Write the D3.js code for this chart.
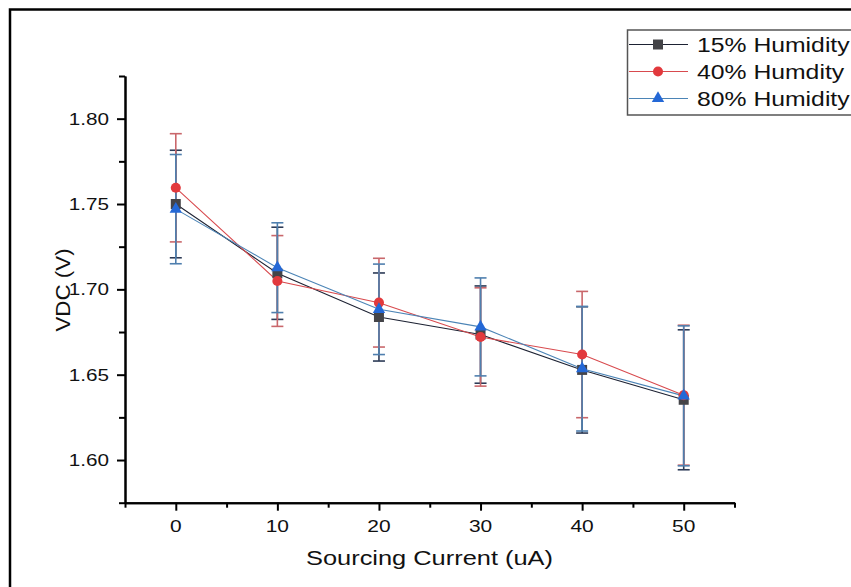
<!DOCTYPE html>
<html>
<head>
<meta charset="utf-8">
<script src="https://cdn.jsdelivr.net/npm/d3@7"></script>
<style>
  body { margin: 0; background: #fff; }
  svg { display: block; }
  text { font-family: "Liberation Sans", Arial, sans-serif; fill: #111; }
</style>
</head>
<body>
<svg id="chart" width="851" height="587"></svg>
<script>
// Sourcing current (uA) on the x axis
const currents = [0, 10, 20, 30, 40, 50];

// Measured VDC (V) and error half-widths for each humidity level
const h15 = [1.750, 1.7094, 1.6838, 1.6735, 1.6528, 1.6353];
const h15Err = [0.0315, 0.027, 0.0258, 0.0285, 0.037, 0.041];
const h40 = [1.7595, 1.7049, 1.6922, 1.6721, 1.6618, 1.638];
const h40Err = [0.0317, 0.0266, 0.026, 0.0288, 0.037, 0.041];
const h80 = [1.747, 1.7127, 1.6883, 1.678, 1.6535, 1.6376];
const h80Err = [0.032, 0.0263, 0.0265, 0.0287, 0.0365, 0.041];

const seriesNames = ["15% Humidity", "40% Humdity", "80% Humidity"];

// Tick values
const xMajor = [0, 10, 20, 30, 40, 50];
const xMinor = [-5, 5, 15, 25, 35, 45, 55];
const yMajor = [1.60, 1.65, 1.70, 1.75, 1.80];
const yMinor = [1.575, 1.625, 1.675, 1.725, 1.775, 1.825];

const series = [
  { name: seriesNames[0], values: h15, err: h15Err, symbol: d3.symbolSquare, size: 100,
    fill: "#444448", line: "#1d2233", errColor: "#2c3a56" },
  { name: seriesNames[1], values: h40, err: h40Err, symbol: d3.symbolCircle, size: 80,
    fill: "#e2393d", line: "#d84a4e", errColor: "#c9676b" },
  { name: seriesNames[2], values: h80, err: h80Err, symbol: d3.symbolTriangle, size: 66,
    fill: "#2468d6", line: "#4b84b6", errColor: "#4f7fae" }
];

const WIDE = 1.27; // horizontal stretch of the label lettering

const svg = d3.select("#chart");

// outer frame (only its top and left edges fall inside the canvas)
svg.append("rect")
  .attr("x", 10).attr("y", 9.5).attr("width", 1000).attr("height", 800)
  .attr("fill", "none").attr("stroke", "#000").attr("stroke-width", 2.5);

const x = d3.scaleLinear().domain([-5, 55]).range([125, 734.5]);
const y = d3.scaleLinear().domain([1.575, 1.825]).range([502.7, 76]);

// axes: minor ticks first, then major ticks and the axis line
const axisStyle = g => {
  g.selectAll("path.domain").attr("stroke", "#000").attr("stroke-width", 2);
  g.selectAll(".tick line").attr("stroke", "#000").attr("stroke-width", 2);
  g.selectAll(".tick text").remove();
};

svg.append("g").attr("transform", `translate(0,${y.range()[0]})`)
  .call(d3.axisBottom(x).tickValues(xMinor).tickSize(5).tickSizeOuter(0))
  .call(axisStyle);
svg.append("g").attr("transform", `translate(0,${y.range()[0]})`)
  .call(d3.axisBottom(x).tickValues(xMajor).tickSize(8).tickSizeOuter(0))
  .call(axisStyle);
svg.append("g").attr("transform", `translate(${x.range()[0]},0)`)
  .call(d3.axisLeft(y).tickValues(yMinor).tickSize(6).tickSizeOuter(0))
  .call(axisStyle);
svg.append("g").attr("transform", `translate(${x.range()[0]},0)`)
  .call(d3.axisLeft(y).tickValues(yMajor).tickSize(8).tickSizeOuter(0))
  .call(axisStyle);

// tick labels
svg.append("g").selectAll("g").data(xMajor).join("g")
  .attr("transform", d => `translate(${x(d)},531.5) scale(${WIDE},1)`)
  .append("text")
  .attr("text-anchor", "middle")
  .attr("font-size", 16.5)
  .text(d => d3.format("d")(d));

svg.append("g").selectAll("g").data(yMajor).join("g")
  .attr("transform", d => `translate(109,${y(d)}) scale(${WIDE},1)`)
  .append("text")
  .attr("text-anchor", "end")
  .attr("dy", "0.36em")
  .attr("font-size", 16.3)
  .text(d => d3.format(".2f")(d));

// axis titles
svg.append("g")
  .attr("transform", `translate(429.5,565) scale(${WIDE},1)`)
  .append("text").attr("text-anchor", "middle").attr("font-size", 20)
  .text("Sourcing Current (uA)");

svg.append("g")
  .attr("transform", `translate(69.5,290) rotate(-90) scale(1.09,1)`)
  .append("text").attr("text-anchor", "middle").attr("font-size", 20.5)
  .text("VDC (V)");

// series: error bars, connecting lines, markers
const plot = svg.append("g");
const capHalf = 6;

series.forEach(s => {
  const pts = currents.map((c, i) => ({ c, v: s.values[i], e: s.err[i] }));
  const eb = plot.append("g").attr("stroke", s.errColor).attr("stroke-width", 1.6);
  eb.selectAll("line.stem").data(pts).join("line").attr("class", "stem")
    .attr("x1", d => x(d.c)).attr("x2", d => x(d.c))
    .attr("y1", d => y(d.v + d.e)).attr("y2", d => y(d.v - d.e));
  eb.selectAll("line.capTop").data(pts).join("line").attr("class", "capTop")
    .attr("x1", d => x(d.c) - capHalf).attr("x2", d => x(d.c) + capHalf)
    .attr("y1", d => y(d.v + d.e)).attr("y2", d => y(d.v + d.e));
  eb.selectAll("line.capBot").data(pts).join("line").attr("class", "capBot")
    .attr("x1", d => x(d.c) - capHalf).attr("x2", d => x(d.c) + capHalf)
    .attr("y1", d => y(d.v - d.e)).attr("y2", d => y(d.v - d.e));
});

series.forEach(s => {
  const pts = currents.map((c, i) => ({ c, v: s.values[i] }));
  plot.append("path").datum(pts)
    .attr("fill", "none").attr("stroke", s.line).attr("stroke-width", 1.1)
    .attr("d", d3.line().x(d => x(d.c)).y(d => y(d.v)));
});

series.forEach(s => {
  const pts = currents.map((c, i) => ({ c, v: s.values[i] }));
  plot.append("g").selectAll("path").data(pts).join("path")
    .attr("transform", d => `translate(${x(d.c)},${y(d.v)})`)
    .attr("d", d3.symbol(s.symbol, s.size))
    .attr("fill", s.fill);
});

// legend
const legend = svg.append("g");
legend.append("rect")
  .attr("x", 627.5).attr("y", 30).attr("width", 260).attr("height", 85)
  .attr("fill", "#fff").attr("stroke", "#555").attr("stroke-width", 1.5);

const rowY = [44.5, 71.5, 98.5];
series.forEach((s, i) => {
  const row = legend.append("g").attr("transform", `translate(0,${rowY[i]})`);
  row.append("line").attr("x1", 629).attr("x2", 688).attr("y1", 0).attr("y2", 0)
    .attr("stroke", s.line).attr("stroke-width", 1.1);
  row.append("path").attr("transform", "translate(658,0)")
    .attr("d", d3.symbol(s.symbol, s.size)).attr("fill", s.fill);
  row.append("g").attr("transform", `translate(697,7) scale(${WIDE},1)`)
    .append("text").attr("font-size", 19.5).text(s.name);
});
</script>
</body>
</html>
